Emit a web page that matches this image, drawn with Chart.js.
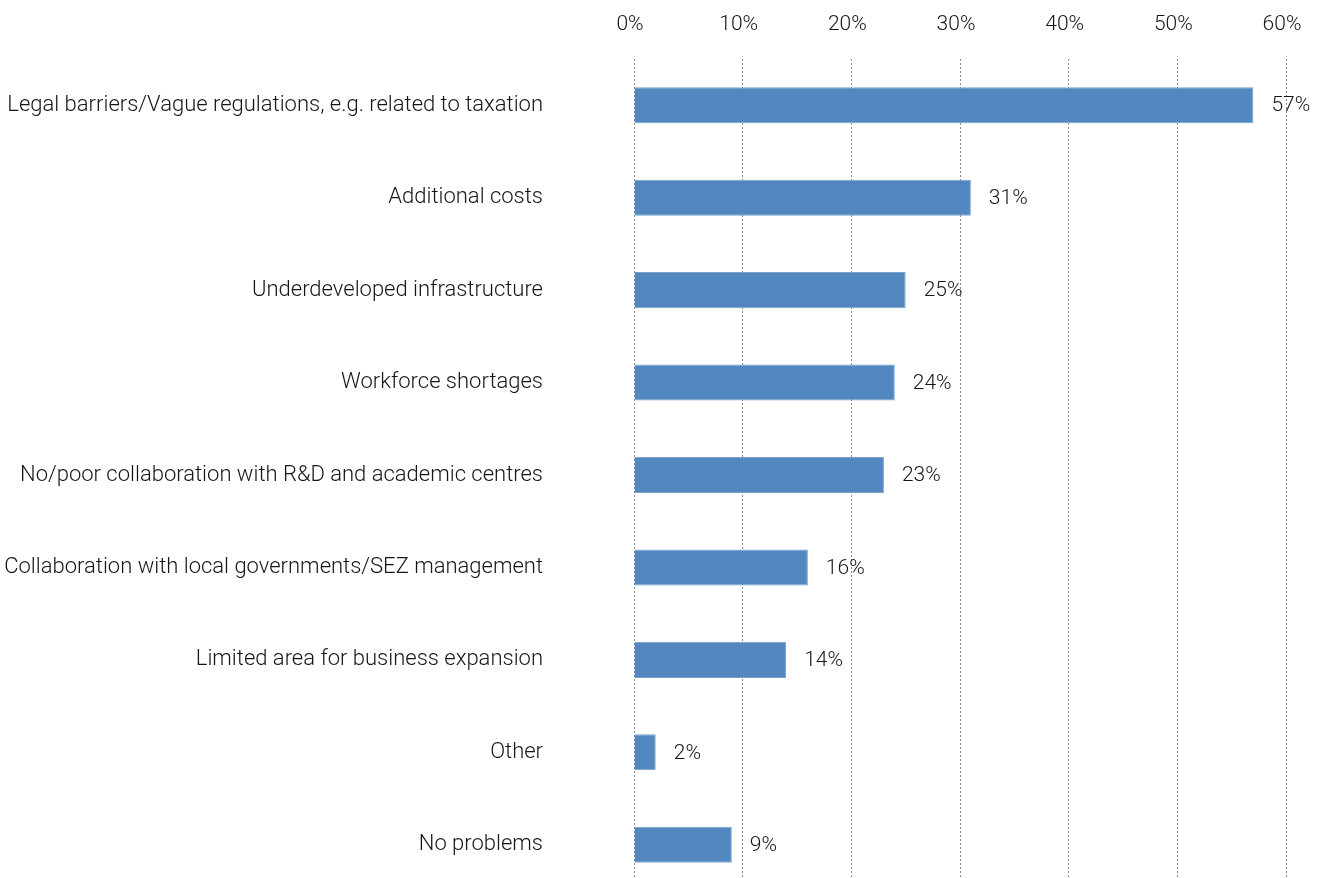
<!DOCTYPE html>
<html>
<head>
<meta charset="utf-8">
<script src="https://cdn.jsdelivr.net/npm/chart.js@4"></script>
<style>
  html, body { margin: 0; padding: 0; background: #fff; overflow: hidden; }
  #wrap { width: 1335px; height: 891px; position: relative; }
</style>
</head>
<body>
<div id="wrap"><canvas id="problems_chart"></canvas></div>
<script>
// survey answers, top to bottom
const categories = [
  'Legal barriers/Vague regulations, e.g. related to taxation',
  'Additional costs',
  'Underdeveloped infrastructure',
  'Workforce shortages',
  'No/poor collaboration with R&D and academic centres',
  'Collaboration with local governments/SEZ management',
  'Limited area for business expansion',
  'Other',
  'No problems',
];
const shares = [57, 31, 25, 24, 23, 16, 14, 2, 9];
const tick_max = 60;
const tick_step = 10;

const font_family = "Roboto, 'Liberation Sans', sans-serif";
const text_color = '#161616';

// value label to the right of each bar
const bar_value_labels = {
  id: 'bar_value_labels',
  afterDatasetsDraw(chart) {
    const ctx = chart.ctx;
    const meta = chart.getDatasetMeta(0);
    ctx.save();
    ctx.font = '300 21px ' + font_family;
    ctx.fillStyle = text_color;
    ctx.textAlign = 'left';
    ctx.textBaseline = 'middle';
    meta.data.forEach((bar, i) => {
      ctx.fillText(shares[i] + '%', bar.x + 18, bar.y + 1);
    });
    ctx.restore();
  }
};

const problems_chart_data = {
  labels: categories,
  datasets: [{
    data: shares,
    backgroundColor: '#5288bf',
    borderColor: '#78a2cd',
    borderWidth: 1,
    borderSkipped: 'start',
    barPercentage: 0.78,
    categoryPercentage: 0.5,
  }]
};

const problems_chart_config = {
  type: 'bar',
  data: problems_chart_data,
  plugins: [bar_value_labels],
  options: {
    indexAxis: 'y',
    responsive: true,
    maintainAspectRatio: false,
    animation: false,
    layout: { padding: { top: 0, right: 49, bottom: 0, left: 0 } },
    plugins: {
      legend: { display: false },
      tooltip: { enabled: false },
    },
    scales: {
      x: {
        position: 'top',
        min: 0,
        max: tick_max,
        grid: {
          color: '#8a8a8a',
          lineWidth: 1,
          drawTicks: false,
          tickLength: 0,
        },
        border: { display: false, dash: [2, 2] },
        ticks: {
          stepSize: tick_step,
          padding: 22,
          labelOffset: -4,
          color: text_color,
          font: { family: font_family, size: 21, weight: 300 },
          callback: v => v + '%',
        },
        afterFit(scale) {
          scale.height = 59;
          scale.paddingLeft = 0;
          scale.paddingRight = 0;
        },
      },
      y: {
        grid: { display: false, drawTicks: false },
        border: { display: false },
        ticks: {
          padding: 91,
          color: text_color,
          font: { family: font_family, size: 22, weight: 300 },
        },
        afterFit(scale) {
          // keep the label gap from padding the plot vertically
          scale.width = 634;
          scale.paddingTop = 0;
          scale.paddingBottom = 0;
        },
      }
    }
  }
};

// dotted vertical grid
problems_chart_config.options.scales.x.grid.borderDash = [2, 2];

const problems_chart = new Chart(
  document.getElementById('problems_chart'),
  problems_chart_config
);
</script>
</body>
</html>
